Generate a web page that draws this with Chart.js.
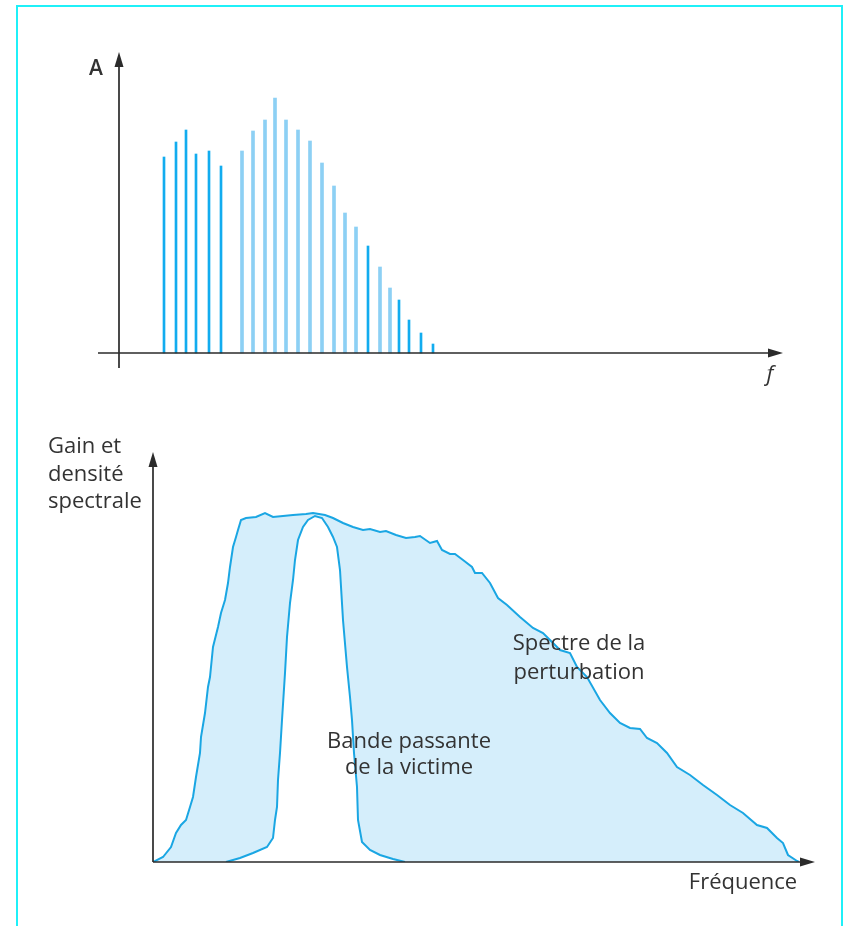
<!DOCTYPE html>
<html>
<head>
<meta charset="utf-8">
<script src="https://cdn.jsdelivr.net/npm/chart.js@4.4.1/dist/chart.umd.min.js"></script>
<style>
html, body { margin: 0; padding: 0; background: #fff; }
#page { position: relative; width: 844px; height: 926px; overflow: hidden; }
#frame { position: absolute; left: 16px; top: 5px; width: 827px; height: 940px; box-sizing: border-box; border: 2px solid #1ff0f8; border-bottom: none; }
canvas { position: absolute; left: 0; top: 0; }
</style>
</head>
<body>
<div id="page">
  <div id="frame"></div>
  <canvas id="lineSpectrum" width="844" height="926"></canvas>
  <canvas id="bandSpectrum" width="844" height="926"></canvas>
</div>
<script>
// Top chart: line spectrum (frequency, amplitude), arbitrary units
const lineFreq = [45, 57, 67, 77, 90, 102, 123, 134, 146, 156, 167, 179, 191, 203, 215, 226, 237, 249, 261, 271, 280, 290, 302, 314];
const lineAmp = [196, 211, 223, 199, 202, 187, 202, 222, 233, 255, 233, 223, 212, 190, 167, 140, 126, 107, 86, 65, 53, 33, 20, 9];

// Bottom chart: disturbance spectrum (frequency, level)
const pertFreq = [0, 10, 18, 23, 28, 33, 37, 40, 43, 47, 48, 52, 55, 57, 60, 65, 68, 72, 75, 77, 80, 83, 85, 88, 93, 103, 112, 120, 130, 140, 153, 160, 172, 180, 190, 200, 210, 217, 227, 233, 243, 253, 262, 267,
  277, 284, 289, 297, 302, 310, 319, 322, 329, 337, 345, 354, 367, 380, 390, 400, 407, 417, 424, 434, 447, 457, 467, 477, 487, 494, 504, 514, 524, 537, 550, 564, 577, 590, 604, 614, 624, 630, 635, 644, 646];
const pertLevel = [0, 5, 15, 29, 37, 42, 55, 65, 85, 109, 125, 149, 175, 185, 215, 235, 249, 262, 279, 295, 315, 325, 332, 342, 344, 345, 349, 345, 346, 347, 348, 349, 347, 344, 339, 335, 332, 333, 330, 331, 327, 324, 325, 326,
  319, 321, 312, 308, 308, 302, 295, 289, 289, 279, 264, 257, 245, 234, 229, 219, 212, 209, 195, 185, 162, 149, 139, 134, 133, 124, 119, 109, 95, 87, 77, 67, 57, 49, 37, 34, 24, 19, 7, 1, 0];

// Bottom chart: victim passband (frequency, gain)
const bandFreq = [73, 87, 100, 114, 120, 122, 124, 125, 127, 129, 132, 134, 137, 140, 142, 145, 150, 155, 162, 169, 175, 180, 184, 187, 190, 194, 197, 199, 201, 204, 205, 209, 217, 227, 240, 252];
const bandGain = [0, 4, 9, 15, 24, 42, 55, 82, 109, 142, 189, 225, 259, 282, 302, 322, 335, 342, 346, 344, 335, 325, 315, 292, 242, 195, 165, 142, 109, 75, 42, 20, 12, 7, 3, 0];

const lightBars = [6, 7, 8, 9, 10, 11, 12, 13, 14, 15, 16, 18, 19];
const ink = '#2b2b2b';
const textColor = '#333333';
const font = '"Open Sans", "DejaVu Sans", sans-serif';

function arrowHead(ctx, x, y, dir) {
  ctx.beginPath();
  if (dir === 'up') {
    ctx.moveTo(x, y); ctx.lineTo(x - 4.5, y + 15); ctx.lineTo(x + 4.5, y + 15);
  } else {
    ctx.moveTo(x, y); ctx.lineTo(x - 15, y - 4.5); ctx.lineTo(x - 15, y + 4.5);
  }
  ctx.closePath();
  ctx.fill();
}

// draws the two arrowed axes through the origin and the text labels
const axesPlugin = {
  id: 'axes',
  afterDatasetsDraw(chart, args, opts) {
    const { ctx } = chart;
    const xs = chart.scales.x, ys = chart.scales.y;
    const x0 = xs.getPixelForValue(0), y0 = ys.getPixelForValue(0);
    ctx.save();
    ctx.strokeStyle = ink;
    ctx.fillStyle = ink;
    ctx.lineWidth = 1.7;
    ctx.beginPath();
    ctx.moveTo(xs.left, y0); ctx.lineTo(xs.right - 10, y0);
    ctx.moveTo(x0, ys.bottom); ctx.lineTo(x0, ys.top + 10);
    ctx.stroke();
    arrowHead(ctx, xs.right, y0, 'right');
    arrowHead(ctx, x0, ys.top, 'up');

    ctx.fillStyle = textColor;
    ctx.textBaseline = 'alphabetic';
    (opts.labels || []).forEach(l => {
      ctx.font = l.font;
      ctx.textAlign = l.align;
      const px = xs.getPixelForValue(l.x);
      const py = ys.getPixelForValue(l.y);
      l.lines.forEach((t, i) => ctx.fillText(t, px, py + i * l.lineHeight));
    });
    ctx.restore();
  }
};

new Chart(document.getElementById('lineSpectrum'), {
  type: 'bar',
  data: {
    datasets: [{
      data: lineFreq.map((f, i) => ({ x: f, y: lineAmp[i] })).filter((d, i) => !lightBars.includes(i)),
      backgroundColor: '#12acef',
      barThickness: 2,
      grouped: false
    }, {
      data: lineFreq.map((f, i) => ({ x: f, y: lineAmp[i] })).filter((d, i) => lightBars.includes(i)),
      backgroundColor: '#8dd0f4',
      barThickness: 3,
      grouped: false
    }]
  },
  options: {
    responsive: false,
    animation: false,
    devicePixelRatio: 1,
    layout: { padding: { left: 98, right: 61, top: 52, bottom: 558 } },
    scales: {
      x: { type: 'linear', min: -21, max: 664, offset: false, display: false },
      y: { min: -15, max: 301, display: false }
    },
    plugins: {
      legend: { display: false },
      tooltip: { enabled: false },
      axes: {
        labels: [
          { lines: ['A'], x: -23, y: 278, align: 'center', font: '600 21px ' + font, lineHeight: 0 },
          { lines: ['f'], x: 651, y: -28, align: 'center', font: 'italic 22px ' + font, lineHeight: 0 }
        ]
      }
    }
  },
  plugins: [axesPlugin]
});

new Chart(document.getElementById('bandSpectrum'), {
  type: 'line',
  data: {
    datasets: [{
      label: 'Spectre de la perturbation',
      data: pertFreq.map((f, i) => ({ x: f, y: pertLevel[i] })),
      borderColor: '#1aa6e3',
      backgroundColor: '#d5eefb',
      borderWidth: 2,
      fill: 'origin',
      pointRadius: 0,
      tension: 0,
      order: 2
    }, {
      label: 'Bande passante de la victime',
      data: bandFreq.map((f, i) => ({ x: f, y: bandGain[i] })),
      borderColor: '#1aa6e3',
      backgroundColor: '#ffffff',
      borderWidth: 2,
      fill: 'origin',
      pointRadius: 0,
      tension: 0,
      order: 1
    }]
  },
  options: {
    responsive: false,
    animation: false,
    devicePixelRatio: 1,
    layout: { padding: { left: 153, right: 29, top: 452, bottom: 64 } },
    scales: {
      x: { type: 'linear', min: 0, max: 662, display: false },
      y: { min: 0, max: 410, display: false }
    },
    plugins: {
      legend: { display: false },
      tooltip: { enabled: false },
      filler: { drawTime: 'beforeDatasetsDraw' },
      axes: {
        labels: [
          { lines: ['Gain et', 'densité', 'spectrale'], x: -105, y: 409, align: 'left', font: '22px ' + font, lineHeight: 27.5 },
          { lines: ['Bande passante', 'de la victime'], x: 256, y: 114, align: 'center', font: '22px ' + font, lineHeight: 26 },
          { lines: ['Spectre de la', 'perturbation'], x: 426, y: 212, align: 'center', font: '22px ' + font, lineHeight: 29 },
          { lines: ['Fréquence'], x: 590, y: -27, align: 'center', font: '22px ' + font, lineHeight: 0 }
        ]
      }
    }
  },
  plugins: [axesPlugin]
});
</script>
</body>
</html>
